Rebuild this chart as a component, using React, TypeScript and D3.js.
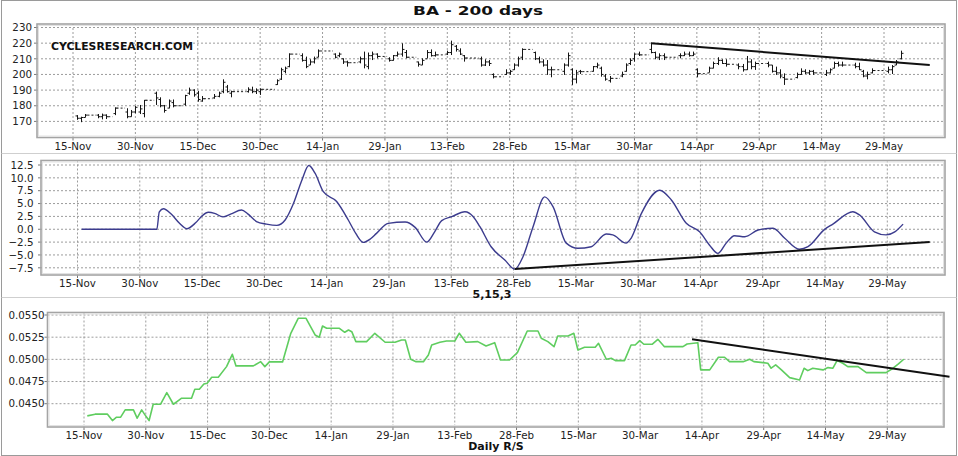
import React from 'react';
import * as d3 from 'd3';

// x values are calendar days counted from 15-Nov
const tickDays = [0, 15, 30, 45, 60, 75, 90, 105, 120, 135, 150, 165, 180, 195];
const tickLabels = ['15-Nov', '30-Nov', '15-Dec', '30-Dec', '14-Jan', '29-Jan', '13-Feb',
  '28-Feb', '15-Mar', '30-Mar', '14-Apr', '29-Apr', '14-May', '29-May'];

const priceTicks = [170, 180, 190, 200, 210, 220, 230];
const oscTicks = [-7.5, -5, -2.5, 0, 2.5, 5, 7.5, 10, 12.5];
const rsTicks = [0.045, 0.0475, 0.05, 0.0525, 0.055];

// [day, open, high, low, close]
const priceBars = [
  [1, 173.5, 174, 171, 172], [2, 172, 173, 169.5, 172.5], [3, 172.5, 174.7, 172.6, 174],
  [6, 174, 174.7, 172, 173], [7, 173, 175, 171.3, 174], [8, 174, 174.5, 171.5, 173],
  [10, 175, 179, 174, 178.5], [13, 176, 178.4, 172, 173], [14, 173, 177.3, 173, 176],
  [15, 176, 179.8, 175.2, 179], [16, 176, 180.5, 174.7, 178], [17, 175, 183.7, 172.6, 183.5],
  [20, 188, 189, 180.5, 185], [21, 184, 185.4, 179, 180], [22, 180, 180.5, 175.6, 177],
  [23, 178.5, 184, 178.4, 183], [24, 182, 184, 179, 180], [27, 181, 187, 180, 186.5],
  [28, 188, 191.6, 187, 190], [29, 190, 190.5, 185.8, 187], [30, 188, 189.4, 182.6, 184],
  [31, 183, 186.2, 182.6, 184.5], [34, 185, 187.5, 184.5, 186], [35, 186, 189, 185.4, 188],
  [36, 189, 196.9, 188, 195], [37, 192, 193.3, 188.4, 189], [38, 188, 189.6, 185.4, 189],
  [42, 189, 191.8, 188.4, 190.5], [43, 190, 192.2, 188, 189], [44, 189, 191.1, 187.5, 190],
  [45, 189, 191.1, 186.9, 190.5], [49, 193.5, 196.9, 193.3, 196], [50, 197, 204.3, 196.5, 203],
  [51, 202, 205, 200.7, 204], [52, 205, 213.5, 204.6, 213], [55, 212, 213.5, 208.2, 209],
  [56, 209, 211.4, 204, 205], [57, 206, 209.7, 206, 208], [58, 208, 211.4, 207, 210],
  [59, 211, 216, 211, 215], [63, 213, 213.5, 210.3, 211], [64, 212, 214, 211, 213],
  [65, 210, 210.3, 206.7, 208], [66, 208, 208.8, 205, 207.5], [69, 208, 211.4, 207.1, 210],
  [70, 210, 214.6, 203.9, 206], [71, 205, 214, 203.3, 212], [72, 212, 214.6, 209.2, 213],
  [73, 213, 213.5, 210.3, 211.5], [76, 210, 211, 208.2, 209], [77, 209, 212.4, 208.8, 212],
  [78, 212, 214.6, 211.4, 213], [79, 213, 219.9, 211.4, 216], [80, 214, 215.6, 210.3, 211],
  [83, 208, 208.2, 205, 206.5], [84, 206, 210.3, 206, 209], [85, 210, 215.6, 210.3, 214],
  [86, 214, 216, 211.4, 212], [87, 212, 214.6, 211.4, 212.5], [90, 213, 215.2, 212.4, 214],
  [91, 214, 221.6, 212.4, 219], [92, 218, 218.8, 214.6, 216], [93, 215, 216.7, 212.4, 213],
  [94, 212, 212.4, 208.2, 210.5], [98, 210, 211.4, 205, 206], [99, 206, 209.7, 205.4, 208],
  [100, 208, 209.2, 205.4, 207], [101, 200, 200.7, 197.5, 198.5], [104, 200, 203.3, 199.7, 201],
  [105, 201, 202.9, 199.7, 202], [106, 203, 207.1, 202.9, 206], [107, 206, 211.4, 205, 210],
  [108, 211, 216.7, 209.2, 216], [111, 214, 214.6, 209.2, 210], [112, 210, 211.4, 207.1, 208],
  [113, 208, 209.7, 205, 206], [114, 206, 209.2, 199.7, 203], [115, 203, 205, 198.2, 203],
  [118, 202, 207.1, 199.7, 206], [119, 206, 214, 205, 212], [120, 203, 203.9, 193.3, 197],
  [121, 197, 202.9, 194.3, 201], [122, 202, 202.9, 200.3, 201.8], [125, 202, 205.4, 201.8, 205],
  [126, 205, 207.5, 203.9, 206], [127, 204, 205, 198.6, 200], [128, 199, 200.3, 196, 197],
  [129, 196, 199, 194.8, 197.5], [132, 199, 201.8, 198.2, 200], [133, 202, 207.1, 201.8, 206],
  [134, 207, 210.3, 206, 209], [135, 210, 213.5, 208.2, 213], [136, 213, 214.6, 211.8, 212.5],
  [139, 216, 220.3, 213.5, 214], [140, 214, 214.6, 209.7, 211], [141, 211, 213.5, 209.2, 212],
  [142, 212, 213.5, 209.2, 211], [146, 212, 213.5, 210.3, 212], [147, 212, 214.6, 211.8, 213],
  [148, 213, 214.6, 211.4, 212], [149, 212, 214.6, 211.8, 213], [150, 203, 203.9, 198.2, 200.5],
  [153, 201, 205, 201.2, 204], [154, 204, 208.2, 203.9, 207], [155, 207, 211, 206, 209],
  [156, 209, 209.7, 206.7, 207], [157, 207, 209.7, 205, 206.5], [160, 206, 207.1, 203.3, 205],
  [161, 205, 206.7, 201.8, 203], [162, 203, 211.8, 202.9, 208], [163, 208, 209.7, 203.3, 205],
  [164, 205, 208.2, 202.9, 207], [167, 207, 208.2, 204.6, 206], [168, 206, 206, 201.2, 202],
  [169, 202, 205, 199.7, 201], [170, 201, 203.3, 197.5, 199], [171, 198, 200.7, 193.3, 197],
  [174, 198, 201.2, 197.5, 200], [175, 200, 203.9, 199.7, 202], [176, 202, 203.3, 200.3, 201],
  [177, 201, 202.9, 199.7, 202], [178, 202, 202.9, 199.7, 201], [181, 200, 202.9, 199, 201],
  [182, 201, 203.9, 200.7, 203], [183, 204, 208.2, 203.9, 207], [184, 207, 208.2, 205, 206],
  [185, 206, 208.2, 205, 206], [188, 206, 207.5, 203.9, 205], [189, 205, 207.5, 202.9, 203],
  [190, 202, 202.9, 198.2, 199], [191, 199, 201.8, 196.9, 200], [192, 201, 203.9, 200.7, 202.5],
  [196, 202, 205, 200.7, 203], [197, 203, 206, 200.3, 205], [198, 206, 209.2, 206, 208],
  [199, 210, 215.2, 209.7, 213.5],
];

// 5,15,3 oscillator [day, value]
const oscPoints = [
  [1, 0], [19.1, 0], [19.7, 3.4], [20.7, 4.0], [22.5, 3.0], [24.5, 1.2], [26.3, 0.1],
  [28.5, 1.3], [30, 2.6], [31.5, 3.3], [33, 3.1], [35, 2.4], [37, 3.0], [39.5, 3.75],
  [41, 3.0], [43.1, 1.5], [45.5, 1.0], [48, 0.75], [50, 1.8], [52, 5.0], [54, 9.5],
  [55.7, 12.4], [57.2, 10.9], [59.2, 7.3], [62.4, 5.4], [65.2, 1.8], [67, -0.8],
  [68.8, -2.55], [70.5, -1.9], [72, -0.8], [74.8, 1.15], [78.9, 1.4], [81.3, 0.37],
  [84.1, -2.5], [86, -0.5], [87.7, 1.67], [90.1, 2.45], [93.3, 3.4], [95.3, 2.45],
  [96.9, 0.5], [99.6, -3.4], [102.9, -6.0], [105.3, -7.75], [107.3, -5.3], [109.7, 0.5],
  [112.5, 6.3], [114.5, 4.4], [117.7, -2.7], [120.5, -3.7], [123.7, -3.4], [127.3, -0.93],
  [128.9, -1.1], [132.1, -2.7], [133.3, -1.76], [135.8, 3.1], [140.2, 7.6], [143, 5.7],
  [146.6, 1.15], [149.8, -0.5], [152.2, -3.1], [154.2, -4.7], [156.2, -2.7], [158.2, -1.25],
  [160.7, -1.45], [163.9, -0.15], [167.5, 0.2], [170.3, -1.76], [173.9, -3.9], [175.9, -3.4],
  [179.9, -0.03], [181.9, 1.0], [186.7, 3.4], [188.3, 2.8], [191.9, -0.5], [194.7, -1.1],
  [196.8, -0.5], [198.8, 1.0],
];

// daily relative strength [day, value]
const rsPoints = [
  [0.8, 0.04363], [2.7, 0.04382], [5.7, 0.04382], [6.9, 0.0431], [7.9, 0.04348], [8.9, 0.04348],
  [10, 0.0443], [12, 0.0443], [12.9, 0.04337], [14, 0.0443], [14.8, 0.04374], [15.8, 0.0431],
  [16.8, 0.04494], [18.6, 0.04494], [20.1, 0.04625], [21.7, 0.04494], [22.9, 0.04535],
  [23.7, 0.04562], [26.1, 0.04562], [26.9, 0.04663], [28, 0.04663], [29.1, 0.04723],
  [29.9, 0.04731], [31, 0.04798], [32.6, 0.04798], [34.6, 0.04918], [36, 0.05057],
  [36.9, 0.04926], [41.1, 0.04926], [42.9, 0.04974], [43.9, 0.04918], [45, 0.04971],
  [48.2, 0.04971], [50.2, 0.05294], [52, 0.05463], [53.9, 0.05463], [56.1, 0.05275],
  [57.1, 0.05249], [57.9, 0.05376], [58.9, 0.0535], [62, 0.0535], [63.3, 0.05305],
  [64.2, 0.05331], [65, 0.05312], [66, 0.052], [68.6, 0.052], [70.6, 0.05294], [73.1, 0.05193],
  [75.5, 0.05193], [77.1, 0.05218], [78, 0.05218], [79.3, 0.05001], [80.6, 0.04974],
  [82.4, 0.04974], [83.6, 0.0505], [84.4, 0.05162], [86.4, 0.05193], [88, 0.05207],
  [90, 0.05207], [91.1, 0.05294], [92.7, 0.05193], [95.6, 0.052], [97.6, 0.05151],
  [99.7, 0.05188], [101.1, 0.04993], [103.3, 0.04993], [105.2, 0.05076], [107.6, 0.0532],
  [110.2, 0.0532], [111, 0.05238], [112.6, 0.052], [114.1, 0.05143], [115, 0.05264],
  [117.5, 0.05264], [118.9, 0.05294], [119.9, 0.05106], [121.5, 0.05136], [124.1, 0.05136],
  [124.9, 0.05181], [126.8, 0.05001], [128, 0.05013], [129, 0.04986], [131.2, 0.04986],
  [132.8, 0.05162], [133.8, 0.05162], [134.9, 0.05211], [135.9, 0.0517], [137.9, 0.0517],
  [139.3, 0.05226], [140.9, 0.05143], [145.4, 0.05143], [146.4, 0.05173], [149, 0.05188],
  [149.7, 0.04881], [151.9, 0.04881], [154, 0.05024], [155.5, 0.05024], [156.7, 0.04974],
  [160, 0.04974], [161.6, 0.05001], [162.6, 0.04974], [164.8, 0.04963], [166, 0.04956],
  [166.8, 0.049], [167.9, 0.04937], [169.3, 0.04881], [171.3, 0.04794], [173.7, 0.04768],
  [174.8, 0.049], [175.7, 0.04873], [176.9, 0.049], [179.4, 0.04881], [180.6, 0.04907],
  [181.8, 0.049], [182.8, 0.04986], [184.2, 0.04956], [185.4, 0.04918], [187.9, 0.04918],
  [189.9, 0.0485], [194.7, 0.0485], [196.4, 0.049], [197.7, 0.04948], [199, 0.05001],
];

const priceTrend = [[139.0, 219.9], [206.0, 206.0]];
const oscTrend = [[105.3, -7.75], [205.2, -2.5]];
const rsTrend = [[147.6, 0.05226], [210.1, 0.04805]];

const font = 'DejaVu Sans, Verdana, sans-serif';

function makePanel(p) {
  const x = d3.scaleLinear().domain([0, 195]).range(p.xr);
  const y = d3.scaleLinear().domain(p.yd).range(p.yr);
  return { ...p, x, y };
}

const top = makePanel({ left: 37, right: 945, top: 24, bottom: 137.5, xr: [73, 884], yd: [170, 230], yr: [121.4, 27.5], labelX: 32, baseY: 149.5 });
const mid = makePanel({ left: 41, right: 945, top: 160.5, bottom: 275, xr: [77.5, 887.3], yd: [-7.5, 12.5], yr: [267.8, 165], labelX: 33.5, baseY: 286.7 });
const bot = makePanel({ left: 47.5, right: 944, top: 312.5, bottom: 427, xr: [84, 887.3], yd: [0.045, 0.055], yr: [403.7, 315], labelX: 44.5, baseY: 439 });

function Frame({ p, yTicks, fmt }) {
  return (
    <g>
      <rect x={p.left} y={p.top} width={p.right - p.left} height={p.bottom - p.top} fill="#fff" />
      {tickDays.map((d, i) => (
        <g key={'v' + i}>
          <line x1={p.x(d)} x2={p.x(d)} y1={p.top} y2={p.bottom} stroke="#9c9c9c" strokeDasharray="2,2" />
          <line x1={p.x(d)} x2={p.x(d)} y1={p.bottom} y2={p.bottom + 3} stroke="#777" />
          <text x={p.x(d)} y={p.baseY} textAnchor="middle" fontSize={10.3} fontFamily={font} fill="#222">{tickLabels[i]}</text>
        </g>
      ))}
      {yTicks.map((t, i) => (
        <g key={'h' + i}>
          <line x1={p.left} x2={p.right} y1={p.y(t)} y2={p.y(t)} stroke="#9c9c9c" strokeDasharray="2,2" />
          <line x1={p.left - 3} x2={p.left} y1={p.y(t)} y2={p.y(t)} stroke="#777" />
          <text x={p.labelX} y={p.y(t)} dy="0.36em" textAnchor="end" fontSize={10.3} fontFamily={font} fill="#222">{fmt(t)}</text>
        </g>
      ))}
      <rect x={p.left} y={p.top} width={p.right - p.left} height={p.bottom - p.top} fill="none" stroke="#a4a4a4" strokeWidth={1.6} />
      <rect x={p.left + 1.5} y={p.top + 1.5} width={p.right - p.left - 3} height={p.bottom - p.top - 3} fill="none" stroke="#e2e2e2" strokeWidth={1} />
    </g>
  );
}

function PriceBars() {
  const { x, y } = top;
  const gaps = [];
  for (let i = 0; i < priceBars.length - 1; i++) {
    const a = priceBars[i], b = priceBars[i + 1];
    if (b[0] - a[0] > 1) gaps.push([a[0], b[0], a[4]]);
  }
  return (
    <g>
      {gaps.map((g, i) => (
        <line key={'g' + i} x1={x(g[0]) + 2} x2={x(g[1]) - 2} y1={y(g[2])} y2={y(g[2])} stroke="#222" strokeDasharray="2,2" />
      ))}
      {priceBars.map((b, i) => {
        const cx = Math.round(x(b[0])) + 0.5;
        return (
          <g key={i} stroke="#151515" strokeWidth={1}>
            <line x1={cx} x2={cx} y1={y(b[2])} y2={y(b[3])} />
            <line x1={cx - 2} x2={cx} y1={y(b[1])} y2={y(b[1])} />
            <line x1={cx} x2={cx + 2} y1={y(b[4])} y2={y(b[4])} />
          </g>
        );
      })}
    </g>
  );
}

function trendPath(p, pts) {
  return d3.line().x(d => p.x(d[0])).y(d => p.y(d[1]))(pts);
}

export default function App() {
  const oscLine = d3.line().x(d => mid.x(d[0])).y(d => mid.y(d[1])).curve(d3.curveMonotoneX)(oscPoints);
  const rsLine = d3.line().x(d => bot.x(d[0])).y(d => bot.y(d[1]))(rsPoints);
  return (
    <svg width={958} height={456} style={{ position: 'absolute', left: 0, top: 0, background: '#fff' }}>
      <rect x={1.5} y={0.5} width={955} height={455} fill="#fff" stroke="#9a9a9a" />
      <line x1={1.5} x2={956.5} y1={153.5} y2={153.5} stroke="#cfcfcf" />
      <line x1={1.5} x2={956.5} y1={297.5} y2={297.5} stroke="#cfcfcf" />

      <text x={478} y={15} textAnchor="middle" fontSize={13} fontWeight="bold" fontFamily={font} textLength={130} lengthAdjust="spacingAndGlyphs" fill="#111">BA - 200 days</text>

      <Frame p={top} yTicks={priceTicks} fmt={d3.format('d')} />
      <text x={51} y={50} fontSize={10.5} fontWeight="bold" fontFamily={font} textLength={142} lengthAdjust="spacingAndGlyphs" fill="#111">CYCLESRESEARCH.COM</text>
      <PriceBars />
      <path d={trendPath(top, priceTrend)} stroke="#111" strokeWidth={2} fill="none" />

      <Frame p={mid} yTicks={oscTicks} fmt={d3.format('.1f')} />
      <path d={oscLine} stroke="#3c3c8e" strokeWidth={1.4} fill="none" />
      <path d={trendPath(mid, oscTrend)} stroke="#111" strokeWidth={2} fill="none" />
      <text x={492} y={298} textAnchor="middle" fontSize={11} fontWeight="bold" fontFamily={font} fill="#111">5,15,3</text>

      <Frame p={bot} yTicks={rsTicks} fmt={d3.format('.4f')} />
      <path d={rsLine} stroke="#5fcd5f" strokeWidth={1.6} fill="none" strokeLinejoin="round" />
      <path d={trendPath(bot, rsTrend)} stroke="#111" strokeWidth={2} fill="none" />
      <text x={496} y={450} textAnchor="middle" fontSize={11} fontWeight="bold" fontFamily={font} fill="#111">Daily R/S</text>
    </svg>
  );
}
